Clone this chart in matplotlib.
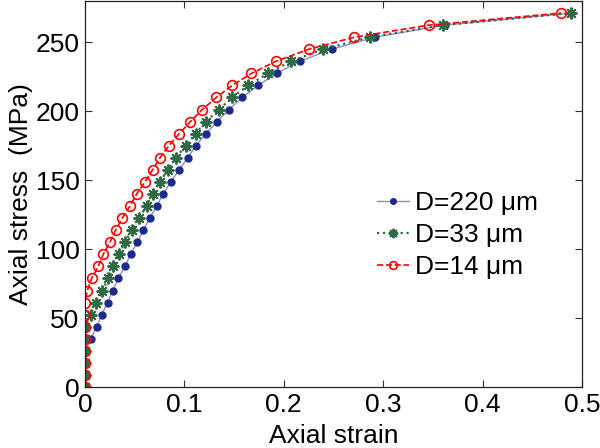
import numpy as np
import matplotlib.pyplot as plt

plt.rcParams['font.family'] = ['Liberation Sans', 'DejaVu Sans']

# stress levels (MPa)
stress = [0, 8.75, 17.5, 26.25, 35, 43.75, 52.5, 61.25, 70, 78.75, 87.5, 96.25,
          105, 113.75, 122.5, 131.25, 140, 148.75, 157.5, 166.25, 175, 183.75,
          192.5, 201.25, 210, 218.75, 227.5, 236.25, 245, 253.75, 262.5, 271.25]

# axial strain for each grain size
strain_220 = [0, 0, 0, 0, 0.006, 0.0118, 0.0168, 0.0228, 0.0278, 0.0335, 0.0402, 0.0459,
              0.0526, 0.0586, 0.0653, 0.072, 0.0787, 0.0861, 0.0948, 0.1032, 0.1116, 0.1216,
              0.133, 0.1447, 0.158, 0.1742, 0.1927, 0.216, 0.248, 0.2915, 0.3618, 0.489]
strain_33 = [0, 0, 0, 0, 0, 0, 0.0057, 0.011, 0.0174, 0.0234, 0.0284, 0.0345,
             0.0402, 0.0469, 0.0543, 0.062, 0.068, 0.0754, 0.0831, 0.0915, 0.1012, 0.1113,
             0.1216, 0.1347, 0.148, 0.1641, 0.1842, 0.207, 0.2395, 0.2864, 0.360, 0.489]
strain_14 = [0, 0, 0, 0, 0, 0, 0, 0, 0.0023, 0.0067, 0.0134, 0.0184,
             0.0251, 0.0308, 0.0375, 0.0452, 0.052, 0.0603, 0.068, 0.0754, 0.0844, 0.0948,
             0.106, 0.118, 0.132, 0.148, 0.1675, 0.192, 0.225, 0.271, 0.346, 0.479]

labels = ['D=220 \u03bcm', 'D=33 \u03bcm', 'D=14 \u03bcm']

fig = plt.figure(figsize=(6, 4.48), dpi=100)
ax = fig.add_axes([85/600, 1 - 387/448, 497/600, 386/448])

ax.plot(strain_220, stress, '-', color='#8a8ad0', lw=1, marker='o', ms=5,
        mfc='#1c2a8c', mec='#1c2a8c', label=labels[0])
ax.plot(strain_33, stress, ':', color='#2f6a45', lw=1.6, marker=(8, 2, 0), ms=8.5,
        mec='#2f6a45', mew=1.4, label=labels[1])
ax.plot(strain_14, stress, '--', color='#ff0000', lw=1.2, marker='o', ms=7,
        mfc='none', mec='#ff0000', mew=1.2, label=labels[2])

ax.set_xlim(0, 0.5)
ax.set_ylim(0, 280)
ax.set_xticks([0, 0.1, 0.2, 0.3, 0.4, 0.5])
ax.set_xticklabels(['0', '0.1', '0.2', '0.3', '0.4', '0.5'])
ax.set_yticks([0, 50, 100, 150, 200, 250])
ax.tick_params(direction='in', top=True, right=True, length=5, width=0.8,
               labelsize=19, pad=4, color='#333333')
for s in ax.spines.values():
    s.set_linewidth(0.9)
    s.set_color('#222222')

ax.set_xlabel('Axial strain', fontsize=19, labelpad=5)
ax.set_ylabel('Axial stress  (MPa)', fontsize=19, labelpad=2)

ax.legend(loc='upper left', bbox_to_anchor=(377/600, 1 - 191/448),
          bbox_transform=fig.transFigure, frameon=False, fontsize=19,
          handlelength=1.2, handletextpad=0.25, labelspacing=0.3,
          borderpad=0, borderaxespad=0, markerscale=0.8)

fig.savefig('out.png', dpi=100)
